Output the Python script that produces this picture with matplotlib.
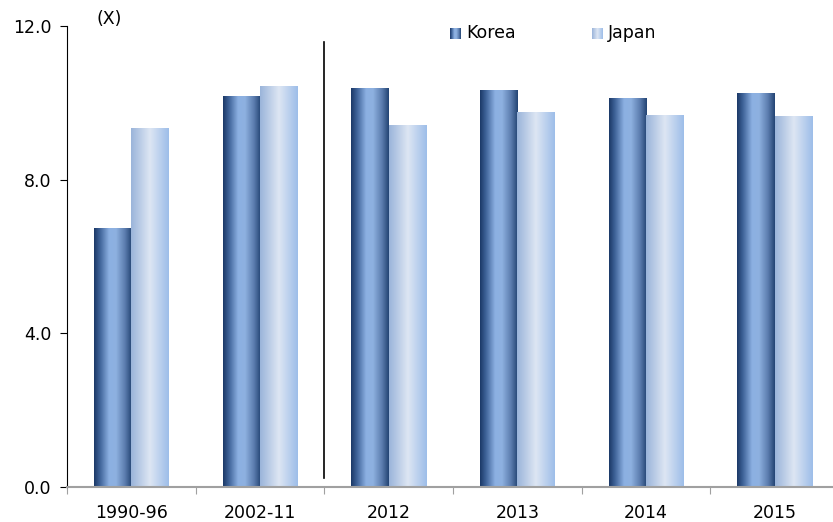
import numpy as np
import matplotlib
matplotlib.use("Agg")
import matplotlib.pyplot as plt
from matplotlib.colors import LinearSegmentedColormap

plt.rcParams['font.family'] = ['DejaVu Sans']
plt.rcParams['font.size'] = 12.5

periods = ["1990-96", "2002-11", "2012", "2013", "2014", "2015"]
korea = [6.75, 10.18, 10.39, 10.33, 10.12, 10.26]
japan = [9.35, 10.44, 9.42, 9.76, 9.68, 9.66]

korea_cmap = LinearSegmentedColormap.from_list(
    "korea", [(0, "#1b3866"), (0.15, "#3d6197"), (0.4, "#8cb0e2"),
              (0.58, "#8eb1e0"), (0.82, "#5b7cae"), (1, "#234473")])
japan_cmap = LinearSegmentedColormap.from_list(
    "japan", [(0, "#9ab4da"), (0.5, "#dde6f3"), (1, "#9dbde9")])
grad = np.linspace(0, 1, 256).reshape(1, -1)

fig = plt.figure(figsize=(8.33, 5.22), dpi=100)
ax = fig.add_axes([67/833, 35/522, 772/833, 461/522])

x = np.arange(len(periods)) + 0.5
w = 0.29


def gradient_bars(xs, vals, cmap):
    bars = ax.bar(xs, vals, width=w, facecolor="none", edgecolor="none")
    for b in bars:
        im = ax.imshow(grad, cmap=cmap, aspect="auto", interpolation="bilinear",
                       extent=[b.get_x(), b.get_x() + b.get_width(), 0, b.get_height()],
                       zorder=2)
        im.set_clip_path(b)


gradient_bars(x - w/2, korea, korea_cmap)
gradient_bars(x + w/2, japan, japan_cmap)

# divider between averages and yearly values
ax.plot([2, 2], [0.23, 11.58], color="black", lw=1.2, zorder=3)

ax.set_xlim(0, 6)
ax.set_ylim(0, 12)
ax.set_yticks([0, 4, 8, 12])
ax.set_yticklabels(["0.0", "4.0", "8.0", "12.0"])
ax.set_xticks(np.arange(7), minor=False)
ax.set_xticklabels([""] * 7)
ax.set_xticks(x, minor=True)
ax.set_xticklabels(periods, minor=True)
ax.tick_params(axis="x", which="minor", length=0, pad=12)
ax.tick_params(axis="x", which="major", length=5, color="#a0a0a0", direction="out")
ax.tick_params(axis="y", length=5, direction="out", pad=6)
for s in ["top", "right"]:
    ax.spines[s].set_visible(False)
ax.spines["bottom"].set_color("#a0a0a0")
ax.spines["bottom"].set_linewidth(1.5)
ax.spines["left"].set_color("black")

fig.text(97/833, 1 - 19/522, "(X)", va="center", ha="left")

# legend
for px, cmap, label in [(450, korea_cmap, "Korea"), (592, japan_cmap, "Japan")]:
    lax = fig.add_axes([px/833, 1 - 39/522, 11/833, 11/522])
    lax.imshow(grad, cmap=cmap, aspect="auto")
    lax.axis("off")
    fig.text((px + 16)/833, 1 - 33/522, label, va="center", ha="left")

fig.savefig("out.png", dpi=100)
